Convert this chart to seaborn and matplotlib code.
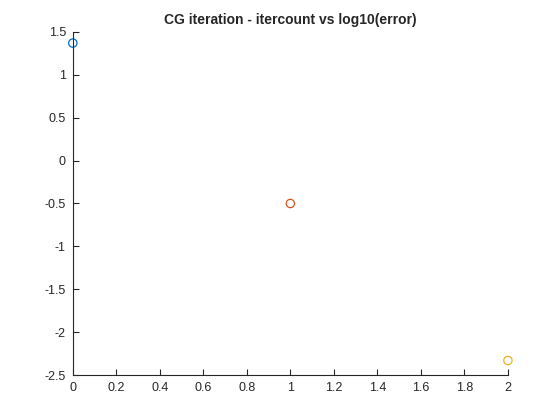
import matplotlib
matplotlib.use("Agg")

import pandas as pd
import matplotlib.pyplot as plt
import seaborn as sns

# ── data ──
itercount = [0, 1, 2]
log_error = [1.37, -0.50, -2.33]
colors = ["#0072BD", "#D95319", "#EDB120"]

sns.set_style("white")
plt.rcParams["font.family"] = ["Liberation Sans", "DejaVu Sans"]

df = pd.DataFrame({"itercount": itercount, "log_error": log_error,
                   "run": [str(i) for i in itercount]})

fig = plt.figure(figsize=(5.6, 4.2), dpi=100)
ax = fig.add_axes([0.13, 0.107, 0.777, 0.817])

sns.scatterplot(data=df, x="itercount", y="log_error", hue="run",
                palette=colors, marker="o", s=36,
                linewidth=0.9, legend=False, ax=ax)
# hollow circles like MATLAB's 'o' marker, not clipped at the axes edge
for coll in ax.collections:
    coll.set_facecolor("none")
    coll.set_edgecolor(colors)
    coll.set_clip_on(False)

ax.set_xlim(0, 2)
ax.set_ylim(-2.5, 1.5)
ax.set_xticks([0, 0.2, 0.4, 0.6, 0.8, 1, 1.2, 1.4, 1.6, 1.8, 2])
ax.set_xticklabels(["0", "0.2", "0.4", "0.6", "0.8", "1", "1.2", "1.4", "1.6", "1.8", "2"])
ax.set_yticks([-2.5, -2, -1.5, -1, -0.5, 0, 0.5, 1, 1.5])
ax.set_yticklabels(["-2.5", "-2", "-1.5", "-1", "-0.5", "0", "0.5", "1", "1.5"])
ax.set_xlabel("")
ax.set_ylabel("")

sns.despine(ax=ax)
for side in ("left", "bottom"):
    ax.spines[side].set_color("#262626")
    ax.spines[side].set_linewidth(0.8)
ax.tick_params(bottom=True, left=True, direction="in", length=4, width=0.8,
               colors="#262626", labelsize=9, labelcolor="#262626", pad=5)

ax.set_title("CG iteration - itercount vs log10(error)", fontsize=10,
             fontweight="bold", pad=6)

fig.savefig("out.png", dpi=100)
